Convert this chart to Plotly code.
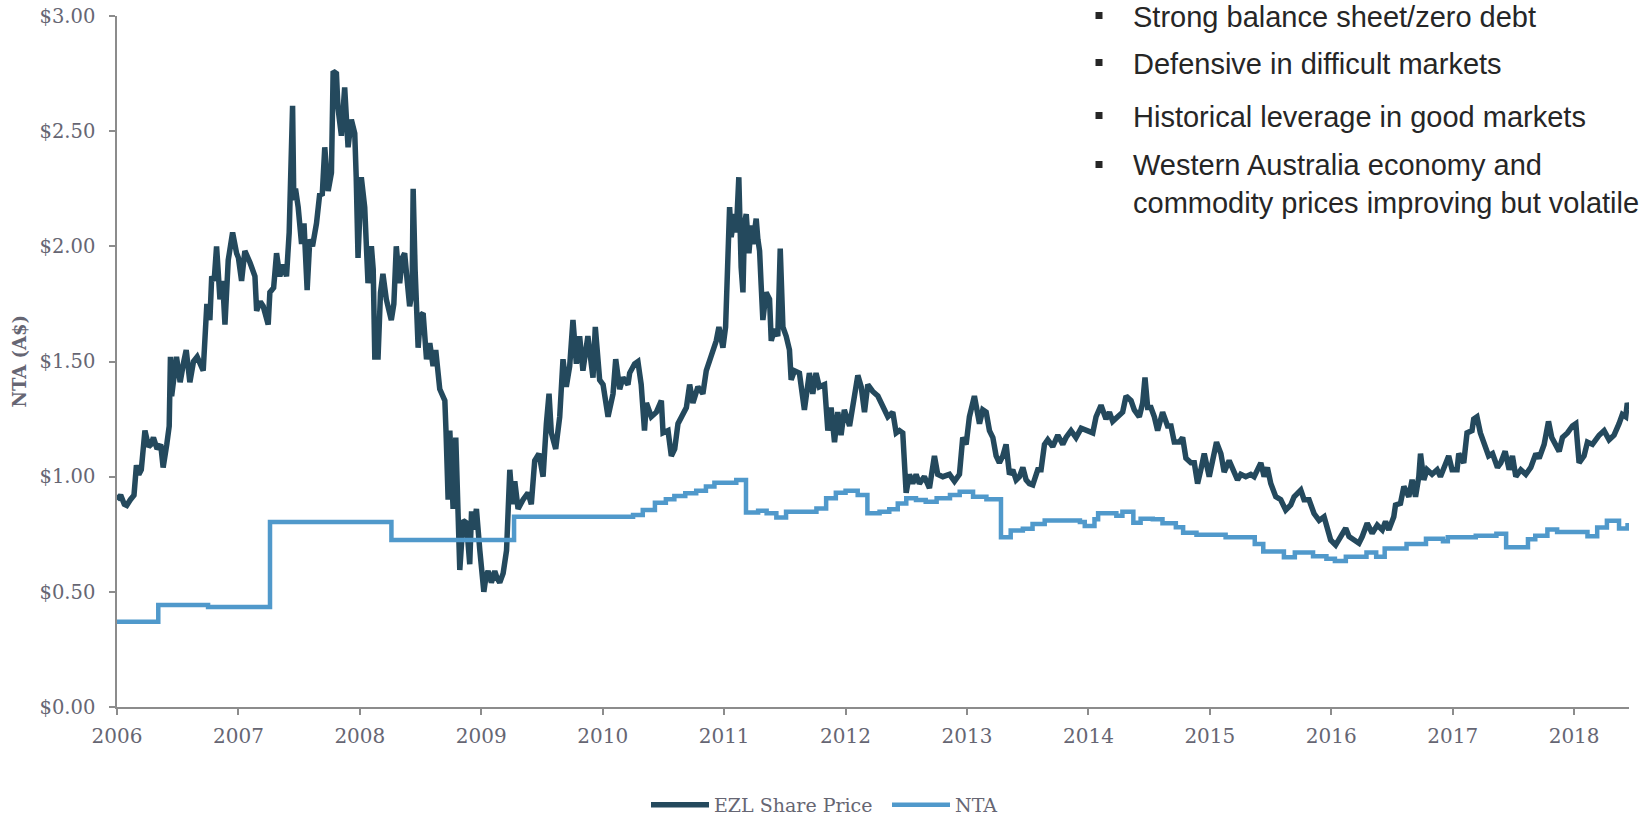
import plotly.graph_objects as go

# ---------------- data ----------------
# EZL share price (A$), x in decimal years
share_year = [
    2006.00, 2006.03, 2006.06, 2006.08, 2006.11, 2006.14, 2006.16, 2006.18, 2006.20, 2006.23,
    2006.26, 2006.28, 2006.30, 2006.33, 2006.36, 2006.38, 2006.41, 2006.43, 2006.44, 2006.45,
    2006.49, 2006.52, 2006.55, 2006.57, 2006.60, 2006.63, 2006.66, 2006.71, 2006.74, 2006.765,
    2006.78, 2006.80, 2006.82, 2006.848, 2006.87, 2006.889, 2006.916, 2006.952, 2006.985, 2007.00,
    2007.026, 2007.053, 2007.095, 2007.136, 2007.15, 2007.18, 2007.204, 2007.245, 2007.259, 2007.29,
    2007.314, 2007.341, 2007.37, 2007.396, 2007.418, 2007.446, 2007.456, 2007.47, 2007.492, 2007.52,
    2007.54, 2007.566, 2007.588, 2007.61, 2007.643, 2007.67, 2007.69, 2007.711, 2007.739, 2007.766,
    2007.78, 2007.807, 2007.82, 2007.835, 2007.848, 2007.875, 2007.89, 2007.903, 2007.93, 2007.958,
    2007.97, 2007.985, 2008.012, 2008.04, 2008.067, 2008.095, 2008.11, 2008.123, 2008.15, 2008.17,
    2008.19, 2008.218, 2008.259, 2008.28, 2008.30, 2008.328, 2008.35, 2008.369, 2008.39, 2008.41,
    2008.43, 2008.439, 2008.455, 2008.48, 2008.50, 2008.521, 2008.549, 2008.576, 2008.603, 2008.625,
    2008.658, 2008.68, 2008.70, 2008.71, 2008.727, 2008.741, 2008.768, 2008.79, 2008.81, 2008.823,
    2008.85, 2008.878, 2008.905, 2008.92, 2008.933, 2008.96, 2008.988, 2009.021, 2009.04, 2009.056,
    2009.083, 2009.111, 2009.13, 2009.152, 2009.18, 2009.208, 2009.235, 2009.257, 2009.276, 2009.303,
    2009.344, 2009.385, 2009.412, 2009.44, 2009.475, 2009.509, 2009.536, 2009.558, 2009.577, 2009.613,
    2009.646, 2009.673, 2009.70, 2009.728, 2009.755, 2009.783, 2009.81, 2009.837, 2009.878, 2009.92,
    2009.939, 2009.975, 2010.003, 2010.044, 2010.085, 2010.107, 2010.14, 2010.167, 2010.208, 2010.222,
    2010.263, 2010.29, 2010.317, 2010.344, 2010.36, 2010.40, 2010.442, 2010.483, 2010.497, 2010.538,
    2010.565, 2010.593, 2010.62, 2010.661, 2010.689, 2010.716, 2010.743, 2010.784, 2010.825, 2010.853,
    2010.88, 2010.907, 2010.935, 2010.957, 2010.99, 2011.012, 2011.023, 2011.045, 2011.058, 2011.086,
    2011.10, 2011.121, 2011.14, 2011.155, 2011.168, 2011.182, 2011.204, 2011.223, 2011.237, 2011.264,
    2011.278, 2011.292, 2011.305, 2011.319, 2011.346, 2011.374, 2011.388, 2011.415, 2011.442, 2011.462,
    2011.484, 2011.511, 2011.538, 2011.552, 2011.579, 2011.62, 2011.661, 2011.702, 2011.73, 2011.757,
    2011.784, 2011.827, 2011.854, 2011.881, 2011.909, 2011.936, 2011.963, 2011.99, 2012.033, 2012.06,
    2012.101, 2012.129, 2012.156, 2012.183, 2012.224, 2012.266, 2012.307, 2012.348, 2012.389, 2012.417,
    2012.444, 2012.471, 2012.499, 2012.526, 2012.553, 2012.581, 2012.608, 2012.649, 2012.691, 2012.732,
    2012.759, 2012.801, 2012.856, 2012.897, 2012.938, 2012.965, 2012.993, 2013.02, 2013.061, 2013.088,
    2013.103, 2013.13, 2013.158, 2013.185, 2013.213, 2013.24, 2013.267, 2013.295, 2013.322, 2013.35,
    2013.377, 2013.405, 2013.432, 2013.46, 2013.487, 2013.514, 2013.542, 2013.583, 2013.61, 2013.638,
    2013.665, 2013.706, 2013.748, 2013.789, 2013.816, 2013.857, 2013.898, 2013.94, 2013.981, 2014.036,
    2014.063, 2014.104, 2014.145, 2014.173, 2014.20, 2014.241, 2014.282, 2014.31, 2014.351, 2014.378,
    2014.419, 2014.447, 2014.466, 2014.488, 2014.515, 2014.543, 2014.57, 2014.611, 2014.652, 2014.68,
    2014.707, 2014.748, 2014.776, 2014.803, 2014.844, 2014.872, 2014.899, 2014.926, 2014.954, 2014.995,
    2015.022, 2015.055, 2015.091, 2015.118, 2015.159, 2015.187, 2015.228, 2015.255, 2015.296, 2015.337,
    2015.365, 2015.42, 2015.447, 2015.474, 2015.502, 2015.543, 2015.584, 2015.625, 2015.666, 2015.694,
    2015.749, 2015.776, 2015.817, 2015.858, 2015.90, 2015.941, 2015.968, 2015.995, 2016.036, 2016.077,
    2016.119, 2016.146, 2016.187, 2016.228, 2016.255, 2016.296, 2016.337, 2016.379, 2016.42, 2016.447,
    2016.474, 2016.515, 2016.529, 2016.57, 2016.598, 2016.639, 2016.666, 2016.694, 2016.721, 2016.735,
    2016.762, 2016.789, 2016.83, 2016.872, 2016.899, 2016.926, 2016.967, 2016.995, 2017.036, 2017.05,
    2017.091, 2017.118, 2017.159, 2017.173, 2017.20, 2017.228, 2017.269, 2017.296, 2017.328, 2017.369,
    2017.396, 2017.432, 2017.465, 2017.492, 2017.52, 2017.561, 2017.602, 2017.643, 2017.685, 2017.712,
    2017.753, 2017.789, 2017.816, 2017.849, 2017.877, 2017.904, 2017.945, 2017.986, 2018.014, 2018.041,
    2018.082, 2018.11, 2018.151, 2018.206, 2018.247, 2018.288, 2018.329, 2018.37, 2018.397, 2018.425,
    2018.438, 2018.452,
]
share_price = [
    0.90, 0.92, 0.88, 0.875, 0.90, 0.92, 1.05, 1.01, 1.03, 1.20,
    1.13, 1.14, 1.17, 1.12, 1.14, 1.04, 1.14, 1.22, 1.52, 1.35,
    1.52, 1.41, 1.50, 1.55, 1.41, 1.50, 1.52, 1.46, 1.75, 1.68,
    1.87, 1.85, 2.00, 1.77, 1.85, 1.66, 1.94, 2.06, 1.97, 1.95,
    1.85, 1.98, 1.93, 1.87, 1.72, 1.76, 1.74, 1.66, 1.80, 1.82,
    1.97, 1.87, 1.92, 1.87, 2.06, 2.61, 2.20, 2.25, 2.17, 2.01,
    2.10, 1.81, 2.03, 2.00, 2.10, 2.23, 2.22, 2.43, 2.24, 2.32,
    2.76, 2.75, 2.60, 2.52, 2.48, 2.69, 2.55, 2.43, 2.55, 2.49,
    2.30, 1.95, 2.30, 2.17, 1.84, 2.00, 1.90, 1.52, 1.52, 1.80,
    1.88, 1.77, 1.68, 1.75, 2.00, 1.84, 1.95, 1.97, 1.85, 1.74,
    1.80, 2.25, 1.90, 1.56, 1.70, 1.71, 1.51, 1.58, 1.48, 1.55,
    1.38, 1.35, 1.33, 1.19, 0.90, 1.20, 0.86, 1.17, 0.90, 0.595,
    0.81, 0.80, 0.62, 0.85, 0.77, 0.86, 0.68, 0.50, 0.57, 0.59,
    0.54, 0.59, 0.56, 0.54, 0.58, 0.68, 1.03, 0.88, 0.98, 0.86,
    0.90, 0.93, 0.88, 1.07, 1.10, 1.00, 1.23, 1.36, 1.19, 1.12,
    1.26, 1.51, 1.39, 1.48, 1.68, 1.49, 1.61, 1.46, 1.61, 1.43,
    1.65, 1.42, 1.40, 1.26, 1.36, 1.51, 1.38, 1.43, 1.40, 1.45,
    1.49, 1.50, 1.40, 1.20, 1.32, 1.26, 1.28, 1.33, 1.19, 1.20,
    1.09, 1.12, 1.23, 1.28, 1.30, 1.40, 1.32, 1.39, 1.36, 1.46,
    1.50, 1.55, 1.59, 1.65, 1.56, 1.65, 1.81, 2.17, 2.04, 2.14,
    2.06, 2.30, 1.91, 1.80, 2.10, 2.14, 1.97, 2.09, 2.01, 2.12,
    2.03, 1.98, 1.83, 1.68, 1.80, 1.77, 1.59, 1.64, 1.61, 1.99,
    1.65, 1.61, 1.55, 1.42, 1.46, 1.45, 1.29, 1.45, 1.36, 1.45,
    1.39, 1.40, 1.20, 1.30, 1.15, 1.28, 1.18, 1.29, 1.22, 1.30,
    1.44, 1.39, 1.28, 1.40, 1.37, 1.35, 1.30, 1.26, 1.28, 1.19,
    1.20, 1.19, 0.93, 1.01, 0.97, 1.01, 0.97, 1.00, 0.95, 1.09,
    1.01, 1.00, 1.01, 0.98, 1.01, 1.17, 1.14, 1.26, 1.35, 1.25,
    1.23, 1.29, 1.28, 1.20, 1.17, 1.09, 1.06, 1.09, 1.14, 1.01,
    1.03, 0.986, 1.00, 1.04, 0.986, 0.97, 0.964, 1.03, 1.03, 1.14,
    1.16, 1.13, 1.18, 1.14, 1.17, 1.20, 1.17, 1.21, 1.20, 1.19,
    1.26, 1.31, 1.25, 1.28, 1.24, 1.26, 1.28, 1.35, 1.33, 1.29,
    1.26, 1.32, 1.43, 1.30, 1.30, 1.26, 1.20, 1.28, 1.22, 1.22,
    1.15, 1.15, 1.17, 1.08, 1.06, 1.06, 0.97, 1.03, 1.10, 1.00,
    1.07, 1.15, 1.10, 1.02, 1.07, 1.03, 0.986, 1.01, 1.00, 1.01,
    1.00, 1.06, 1.00, 1.04, 0.97, 0.913, 0.90, 0.855, 0.877, 0.913,
    0.942, 0.90, 0.90, 0.84, 0.81, 0.826, 0.769, 0.725, 0.703, 0.74,
    0.776, 0.74, 0.725, 0.711, 0.74, 0.798, 0.754, 0.79, 0.769, 0.805,
    0.769, 0.826, 0.877, 0.884, 0.957, 0.913, 0.986, 0.913, 1.00, 1.10,
    0.986, 1.03, 1.01, 1.03, 1.00, 1.04, 1.09, 1.03, 1.03, 1.10,
    1.06, 1.19, 1.20, 1.25, 1.26, 1.19, 1.13, 1.09, 1.10, 1.04,
    1.06, 1.11, 1.03, 1.09, 1.00, 1.03, 1.01, 1.04, 1.10, 1.08,
    1.14, 1.24, 1.17, 1.13, 1.11, 1.17, 1.19, 1.22, 1.23, 1.06,
    1.09, 1.15, 1.14, 1.18, 1.20, 1.16, 1.18, 1.23, 1.27, 1.26,
    1.32, 1.29,
]

# NTA (A$): step values, each holds from its date until the next one
nta_year = [
    2006.00, 2006.34, 2006.75, 2007.26, 2008.26, 2009.27, 2010.25, 2010.33, 2010.43, 2010.52,
    2010.59, 2010.68, 2010.77, 2010.85, 2010.92, 2011.10, 2011.18, 2011.28, 2011.35, 2011.43,
    2011.51, 2011.76, 2011.84, 2011.92, 2012.00, 2012.10, 2012.18, 2012.28, 2012.36, 2012.43,
    2012.50, 2012.58, 2012.66, 2012.75, 2012.86, 2012.94, 2013.05, 2013.16, 2013.28, 2013.36,
    2013.46, 2013.54, 2013.64, 2013.93, 2013.97, 2014.05, 2014.08, 2014.23, 2014.28, 2014.37,
    2014.43, 2014.53, 2014.61, 2014.72, 2014.78, 2014.89, 2015.13, 2015.37, 2015.44, 2015.61,
    2015.70, 2015.85, 2015.96, 2016.03, 2016.12, 2016.29, 2016.37, 2016.44, 2016.62, 2016.78,
    2016.92, 2016.96, 2017.19, 2017.36, 2017.44, 2017.62, 2017.68, 2017.78, 2017.86, 2018.11,
    2018.19, 2018.27, 2018.37, 2018.44, 2018.452,
]
nta_value = [
    0.37, 0.443, 0.434, 0.803, 0.725, 0.826, 0.834, 0.855, 0.887, 0.902,
    0.916, 0.928, 0.939, 0.957, 0.974, 0.986, 0.844, 0.852, 0.841, 0.823,
    0.848, 0.862, 0.906, 0.930, 0.939, 0.920, 0.841, 0.848, 0.858, 0.884,
    0.906, 0.899, 0.891, 0.906, 0.920, 0.935, 0.913, 0.902, 0.737, 0.766,
    0.774, 0.795, 0.810, 0.803, 0.786, 0.815, 0.841, 0.830, 0.848, 0.800,
    0.817, 0.815, 0.798, 0.780, 0.757, 0.748, 0.737, 0.708, 0.675, 0.650,
    0.671, 0.655, 0.644, 0.634, 0.652, 0.671, 0.652, 0.688, 0.708, 0.730,
    0.720, 0.737, 0.744, 0.752, 0.694, 0.728, 0.744, 0.771, 0.760, 0.741,
    0.779, 0.809, 0.775, 0.789, 0.789,
]

year_ticks = list(range(2006, 2019))
year_labels = [str(y) for y in year_ticks]
price_ticks = [0.0, 0.5, 1.0, 1.5, 2.0, 2.5, 3.0]
price_labels = ["$0.00", "$0.50", "$1.00", "$1.50", "$2.00", "$2.50", "$3.00"]

bullets = [
    "Strong balance sheet/zero debt",
    "Defensive in difficult markets",
    "Historical leverage in good markets",
    "Western Australia economy and",
    "commodity prices improving but volatile",
]

# ---------------- figure ----------------
DARK = "#24495d"
BLUE = "#5099cb"
AXIS = "#8c8c8c"
TXT = "#666673"
SERIF = "DejaVu Serif, Liberation Serif, serif"

fig = go.Figure()
fig.add_trace(go.Scatter(
    x=share_year, y=share_price, mode="lines", name="EZL Share Price",
    line=dict(color=DARK, width=5.5),
))
fig.add_trace(go.Scatter(
    x=nta_year, y=nta_value, mode="lines", name="NTA",
    line=dict(color=BLUE, width=4.5, shape="hv"),
))

W, H = 1652, 818
L, R, T, B = 117, 23, 16, 111
pw, ph = W - L - R, H - T - B

def px_x(px):
    return (px - L) / pw

def px_y(py):
    return (H - B - py) / ph

fig.update_layout(
    width=W, height=H,
    margin=dict(l=L, r=R, t=T, b=B, pad=0, autoexpand=False),
    paper_bgcolor="white", plot_bgcolor="white",
    showlegend=True,
    legend=dict(
        orientation="h", x=px_x(646), xanchor="left",
        y=px_y(805), yanchor="middle",
        font=dict(family=SERIF, size=19, color=TXT),
        itemwidth=58, entrywidth=168, entrywidthmode="pixels",
        traceorder="normal", bgcolor="rgba(0,0,0,0)",
    ),
    xaxis=dict(
        range=[2006, 2018.452], tickvals=year_ticks, ticktext=year_labels,
        showgrid=False, zeroline=False, showline=True, linecolor=AXIS, linewidth=1.5,
        ticks="outside", ticklen=6, tickcolor=AXIS, tickwidth=1.5, automargin=False,
        tickfont=dict(family=SERIF, size=20, color=TXT), ticklabelstandoff=4,
    ),
    yaxis=dict(
        range=[0, 3], tickvals=price_ticks, ticktext=price_labels,
        showgrid=False, zeroline=False, showline=True, linecolor=AXIS, linewidth=1.5,
        ticks="outside", ticklen=6, tickcolor=AXIS, tickwidth=1.5, automargin=False,
        tickfont=dict(family=SERIF, size=19.5, color=TXT), ticklabelstandoff=10,
    ),
)

# y-axis title
fig.add_annotation(
    text="<b>NTA (A$)</b>", xref="paper", yref="paper",
    x=px_x(19), y=0.5, xanchor="center", yanchor="middle", textangle=-90,
    showarrow=False, font=dict(family=SERIF, size=18, color=TXT),
)

# bullet list at top right
line_y = [16.5, 63.5, 116.5, 165.5, 202.5]
has_bullet = [True, True, True, True, False]
for txt, yy, hb in zip(bullets, line_y, has_bullet):
    fig.add_annotation(
        text=txt, xref="paper", yref="paper", x=px_x(1131), y=px_y(yy),
        xanchor="left", yanchor="middle", showarrow=False,
        font=dict(family="Liberation Sans, Arial, sans-serif", size=29, color="#262626"),
    )
    if hb:
        fig.add_shape(
            type="rect", xref="paper", yref="paper",
            x0=px_x(1095.5), x1=px_x(1102.5), y0=px_y(yy + 2.5), y1=px_y(yy - 4.5),
            fillcolor="#262626", line=dict(width=0),
        )

fig.write_html(
    "out.html",
    config={"displayModeBar": False},
    post_script="document.body.style.margin='0';document.body.style.overflow='hidden';",
)
